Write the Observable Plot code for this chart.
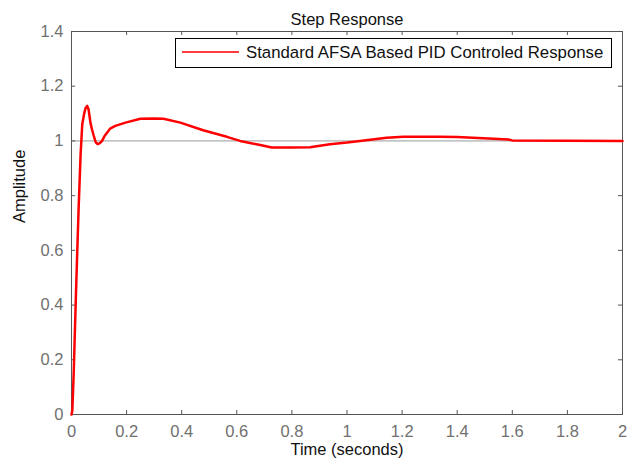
<!DOCTYPE html>
<html>
<head>
<meta charset="utf-8">
<script src="https://cdn.jsdelivr.net/npm/d3@7"></script>
<script src="https://cdn.jsdelivr.net/npm/@observablehq/plot@0.6"></script>
<style>
  html, body { margin: 0; padding: 0; background: #fff; }
  #wrap { position: relative; width: 633px; height: 463px; font-family: "Liberation Sans", Arial, sans-serif; }
  #legend {
    position: absolute; left: 175px; top: 38px; width: 437px; height: 30px;
    border: 1.5px solid #000; background: #fff; box-sizing: border-box;
    font-size: 16.8px; color: #111; white-space: nowrap;
  }
  #legend .swatch { position: absolute; left: 6px; top: 12px; width: 57px; height: 2px; background: #ff3c3c; }
  #legend .label { position: absolute; left: 70px; top: 4px; }
</style>
</head>
<body>
<div id="wrap"></div>
<script>
// Step response samples (time in seconds, amplitude)
const time = [0, 0.003, 0.008, 0.015, 0.021, 0.026, 0.033, 0.039, 0.046, 0.051, 0.057, 0.062, 0.069, 0.075, 0.081, 0.088, 0.095, 0.103, 0.111, 0.12, 0.129, 0.14, 0.159, 0.196, 0.25, 0.3, 0.334, 0.395, 0.478, 0.564, 0.612, 0.685, 0.727, 0.8, 0.866, 0.938, 1.0, 1.047, 1.144, 1.204, 1.337, 1.40, 1.495, 1.586, 1.6, 2.0];
const amplitude = [0, 0.015, 0.15, 0.4, 0.6, 0.757, 0.95, 1.06, 1.1, 1.12, 1.128, 1.115, 1.065, 1.04, 1.018, 0.995, 0.988, 0.992, 1.0, 1.018, 1.03, 1.045, 1.055, 1.067, 1.081, 1.082, 1.081, 1.067, 1.039, 1.015, 1.0, 0.985, 0.976, 0.976, 0.977, 0.988, 0.994, 1.0, 1.012, 1.015, 1.015, 1.014, 1.01, 1.005, 1.002, 1.0];
const xTicks = [0, 0.2, 0.4, 0.6, 0.8, 1, 1.2, 1.4, 1.6, 1.8, 2];
const yTicks = [0, 0.2, 0.4, 0.6, 0.8, 1, 1.2, 1.4];
const steadyState = [1];
const title = "Step Response";
const xLabel = "Time (seconds)";
const yLabel = "Amplitude";
const seriesName = "Standard AFSA Based PID Controled Response";

const data = time.map((t, i) => ({t, a: amplitude[i]}));
const fmt = d => String(d);
const tickColor = "#707070";
const xMin = 0, xMax = 2, yMin = 0, yMax = 1.4;
const xTickLen = 0.015, yTickLen = 0.0105; // inward tick length in data units (~4px)

const chart = Plot.plot({
  width: 633,
  height: 463,
  marginLeft: 71,
  marginRight: 11,
  marginTop: 31,
  marginBottom: 49,
  style: {fontFamily: "Liberation Sans, Arial, sans-serif", fontSize: "16.5px", background: "#fff"},
  x: {domain: [xMin, xMax], axis: null},
  y: {domain: [yMin, yMax], axis: null},
  marks: [
    Plot.ruleY(steadyState, {stroke: "#999", strokeWidth: 1}),
    // inward tick marks on all four sides
    Plot.ruleX(xTicks, {x: d => d, y1: yMin, y2: yMin + yTickLen * 1.4, stroke: "#555"}),
    Plot.ruleX(xTicks, {x: d => d, y1: yMax, y2: yMax - yTickLen * 1.4, stroke: "#555"}),
    Plot.ruleY(yTicks, {y: d => d, x1: xMin, x2: xMin + xTickLen, stroke: "#555"}),
    Plot.ruleY(yTicks, {y: d => d, x1: xMax, x2: xMax - xTickLen, stroke: "#555"}),
    Plot.axisX({anchor: "bottom", ticks: xTicks, tickSize: 0, tickPadding: 11, tickFormat: fmt, color: tickColor, label: null}),
    Plot.axisY({anchor: "left", ticks: yTicks, tickSize: 0, tickPadding: 8, tickFormat: fmt, color: tickColor, label: null}),
    Plot.frame({stroke: "#555", strokeWidth: 1}),
    Plot.line(data, {x: "t", y: "a", stroke: "#ff0000", strokeWidth: 2.5, curve: "linear"}),
    Plot.text([title], {frameAnchor: "top", dy: -18, fontSize: 16.5, fill: "#111"}),
    Plot.text([xLabel], {frameAnchor: "bottom", dy: 40, fontSize: 16.5, fill: "#111"}),
    Plot.text([yLabel], {frameAnchor: "left", dx: -52, rotate: -90, fontSize: 16.5, fill: "#111"})
  ]
});
const wrap = document.getElementById("wrap");
wrap.appendChild(chart);
const legend = document.createElement("div");
legend.id = "legend";
legend.innerHTML = `<span class="swatch"></span><span class="label"></span>`;
legend.lastChild.textContent = seriesName;
wrap.appendChild(legend);
</script>
</body>
</html>
